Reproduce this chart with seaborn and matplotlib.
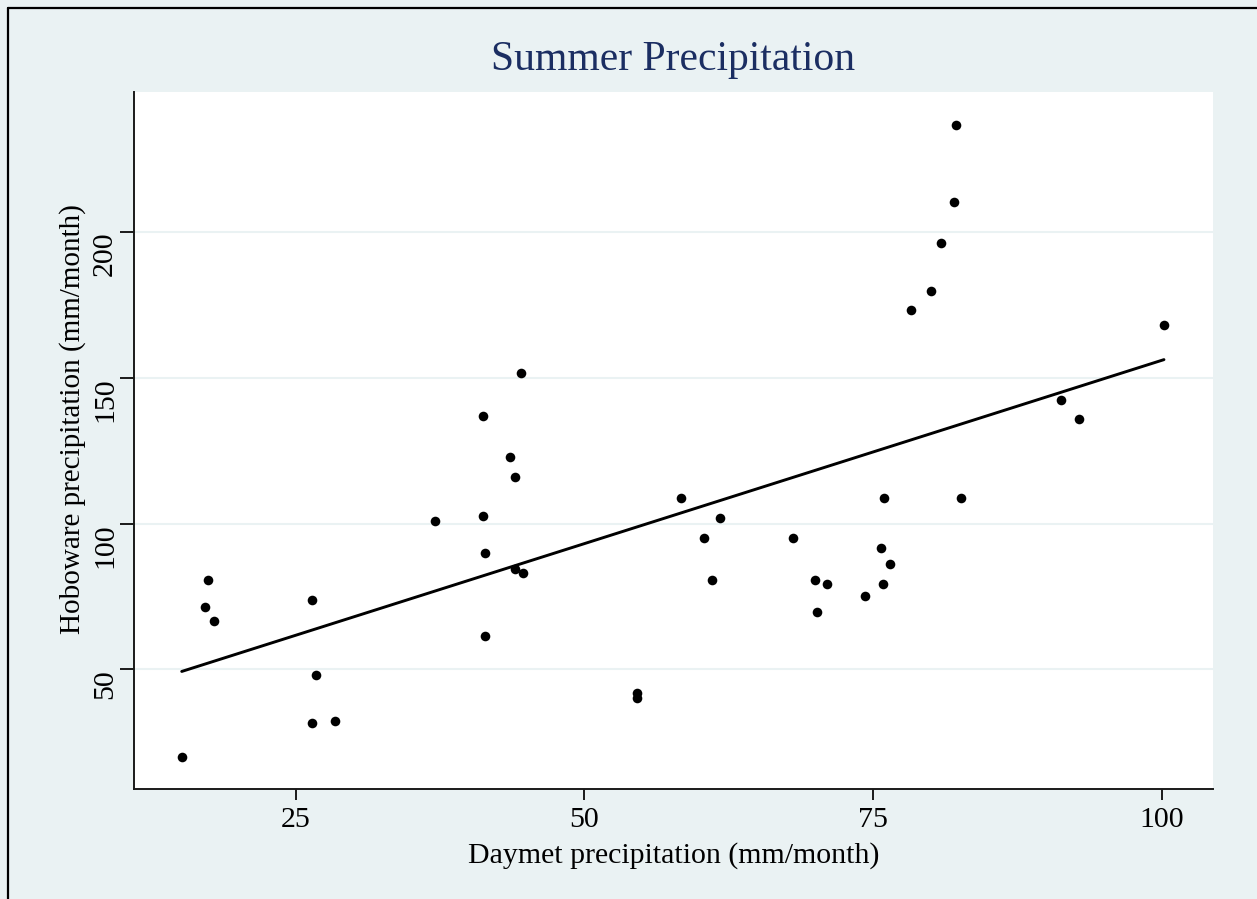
import matplotlib
matplotlib.use("Agg")
import matplotlib.pyplot as plt
from matplotlib.lines import Line2D
import seaborn as sns
import pandas as pd

# Data
daymet = [15.15, 17.45, 17.17, 17.95, 26.40, 26.75, 26.40, 28.42, 37.07, 41.26,
          41.40, 41.40, 41.26, 43.54, 44.03, 44.49, 44.00, 44.67, 54.53, 54.53,
          58.37, 61.77, 60.38, 61.02, 68.09, 69.97, 70.11, 71.03, 74.27, 75.68,
          75.83, 75.97, 76.46, 78.28, 79.98, 80.90, 82.00, 82.17, 82.60, 91.23,
          92.79, 100.17]
hoboware = [20.0, 80.6, 71.5, 66.6, 73.9, 48.1, 31.6, 32.3, 100.8, 102.6,
            89.8, 61.5, 136.9, 122.8, 116.0, 151.5, 84.5, 83.0, 41.8, 40.1,
            108.8, 102.0, 95.2, 80.6, 95.2, 80.6, 69.5, 79.2, 75.1, 91.6,
            79.2, 108.7, 86.0, 173.1, 179.7, 196.2, 210.3, 236.7, 108.7, 142.4,
            135.7, 168.0]
x_ticks = [25, 50, 75, 100]
y_ticks = [50, 100, 150, 200]
title = "Summer Precipitation"
x_label = "Daymet precipitation (mm/month)"
y_label = "Hoboware precipitation (mm/month)"

df = pd.DataFrame({"daymet": daymet, "hoboware": hoboware})

sns.set_theme(style="white")
plt.rcParams["font.family"] = ["Liberation Serif", "DejaVu Serif"]

W, H = 1257, 899
bg = "#EAF2F3"
fig = plt.figure(figsize=(W / 100, H / 100), dpi=100, facecolor=bg)
ax = fig.add_axes([134 / W, 1 - 789.3 / H, (1213.3 - 134) / W, (789.3 - 92) / H])
ax.set_facecolor("white")

sns.regplot(data=df, x="daymet", y="hoboware", ax=ax, ci=None,
            scatter_kws=dict(s=48, color="black", linewidths=0, alpha=1),
            line_kws=dict(color="black", lw=2.1))

ax.set_xlim(11.02, 104.44)
ax.set_ylim(8.9, 247.9)
ax.set_xticks(x_ticks)
ax.set_yticks(y_ticks)
ax.set_xticklabels([str(t) for t in x_ticks])
ax.set_yticklabels([str(t) for t in y_ticks])

ax.yaxis.grid(True, color=bg, lw=1.5)
ax.xaxis.grid(False)
ax.set_axisbelow(True)

for s in ["top", "right"]:
    ax.spines[s].set_visible(False)
for s in ["left", "bottom"]:
    ax.spines[s].set_color("#1a1a1a")
    ax.spines[s].set_linewidth(1.4)

ax.tick_params(axis="x", direction="out", length=7.7, width=1.4, color="#1a1a1a",
               labelsize=21.5, pad=5, bottom=True, labelcolor="black")
ax.tick_params(axis="y", direction="out", length=10, width=1.4, color="#1a1a1a",
               labelsize=21.5, pad=1.5, left=True, labelcolor="black")
for lab in ax.get_yticklabels():
    lab.set_rotation(90)
    lab.set_va("top")
    lab.set_ha("right")

ax.set_xlabel(x_label, fontsize=21.5, color="black")
ax.xaxis.set_label_coords(0.5, -0.075)
ax.set_ylabel(y_label, fontsize=21, color="black")
ax.yaxis.set_label_coords(-0.0445, 0.531)

fig.text(673.5 / W, 1 - 70 / H, title, ha="center", va="baseline",
         fontsize=30, color="#1B2E62")

# outer frame (top and left edges visible in the reference)
fig.add_artist(Line2D([8.3 / W, 8.3 / W], [0, 1 - 8.3 / H], transform=fig.transFigure,
                      color="black", lw=1.6))
fig.add_artist(Line2D([8.3 / W, 1], [1 - 8.3 / H, 1 - 8.3 / H], transform=fig.transFigure,
                      color="black", lw=1.6))

fig.savefig("out.png", dpi=100, facecolor=bg)
